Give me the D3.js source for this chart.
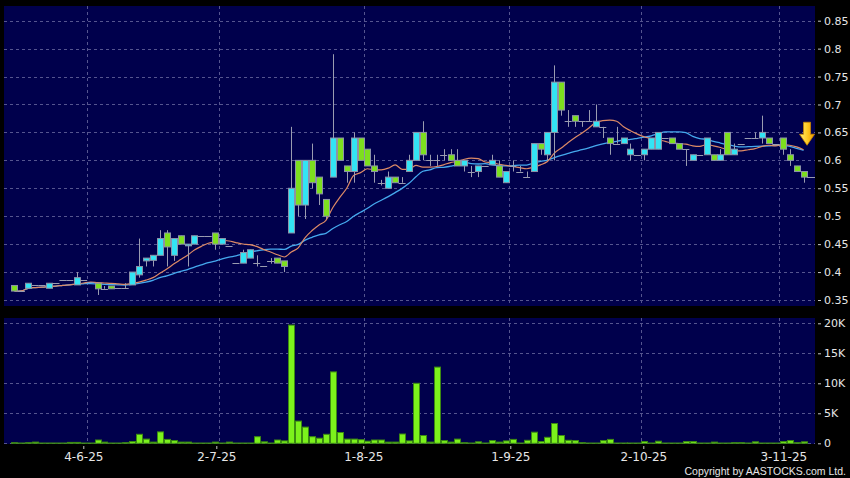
<!DOCTYPE html>
<html>
<head>
<meta charset="utf-8">
<script src="https://cdn.jsdelivr.net/npm/d3@7/dist/d3.min.js"></script>
<style>
body { margin: 0; background: #000; }
svg text { font-family: "DejaVu Sans", sans-serif; fill: #e6e6e6; }
</style>
</head>
<body>
<svg id="chart" width="850" height="478"></svg>
<script>
//Data (one entry per trading day)
var opens  = [.376,.367,.371,.376,.376,.371,.38,.385,.385,.377,.385,.383,.38,.37,.375,.371,.372,.377,.395,.42,
              .421,.43,.47,.43,.465,.447,.45,.465,.465,.47,.45,.446,.416,.416,.425,.417,.41,.42,.425,.42,
              .47,.60,.52,.60,.57,.53,.57,.64,.59,.58,.64,.62,.59,.56,.55,.57,.56,.58,.60,.65,
              .60,.60,.61,.61,.60,.59,.58,.58,.59,.592,.59,.56,.59,.58,.57,.58,.63,.61,.65,.74,
              .67,.68,.67,.67,.66,.66,.64,.63,.63,.61,.61,.61,.62,.62,.64,.64,.63,.62,.60,.61,
              .61,.61,.60,.65,.61,.63,.64,.64,.64,.64,.63,.64,.61,.59,.58];
var closes = [.366,.367,.38,.376,.376,.38,.38,.385,.385,.39,.385,.383,.37,.37,.37,.371,.372,.40,.41,.425,
              .43,.46,.445,.46,.45,.45,.465,.465,.465,.45,.46,.446,.416,.435,.44,.417,.41,.42,.416,.41,
              .55,.52,.60,.56,.54,.50,.64,.60,.58,.64,.60,.59,.58,.56,.57,.56,.56,.60,.65,.61,
              .60,.60,.61,.60,.59,.60,.58,.59,.59,.60,.57,.58,.59,.58,.57,.63,.62,.65,.74,.69,
              .67,.67,.67,.67,.67,.66,.63,.63,.64,.62,.61,.62,.64,.65,.64,.63,.62,.62,.61,.61,
              .64,.60,.61,.61,.62,.63,.64,.64,.65,.63,.63,.62,.60,.58,.57];
var highs  = [.376,.367,.38,.376,.376,.38,.38,.385,.385,.40,.385,.383,.38,.375,.375,.371,.38,.40,.46,.425,
              .43,.475,.475,.46,.465,.45,.465,.465,.465,.47,.46,.446,.416,.44,.44,.43,.41,.425,.425,.42,
              .66,.60,.60,.63,.57,.53,.79,.64,.59,.65,.64,.62,.61,.565,.58,.57,.57,.61,.65,.67,
              .61,.61,.62,.62,.62,.60,.59,.59,.59,.61,.60,.58,.60,.59,.58,.63,.63,.65,.77,.74,
              .69,.68,.67,.69,.70,.66,.64,.66,.64,.63,.61,.62,.64,.65,.64,.64,.63,.62,.61,.61,
              .64,.61,.62,.65,.63,.63,.64,.65,.68,.64,.63,.64,.62,.59,.58];
var lows   = [.366,.367,.371,.376,.376,.371,.38,.385,.385,.377,.385,.383,.359,.37,.37,.371,.371,.377,.39,.41,
              .41,.43,.41,.42,.45,.41,.45,.465,.465,.44,.45,.446,.416,.416,.425,.41,.41,.415,.416,.40,
              .47,.50,.495,.55,.52,.495,.57,.60,.56,.56,.60,.59,.56,.555,.55,.56,.56,.58,.60,.60,
              .59,.59,.60,.60,.59,.58,.57,.57,.59,.592,.57,.56,.58,.58,.57,.58,.61,.60,.60,.68,
              .66,.66,.66,.67,.66,.64,.61,.63,.63,.60,.61,.60,.62,.62,.64,.63,.62,.59,.60,.61,
              .61,.60,.60,.61,.61,.63,.64,.64,.63,.63,.63,.61,.59,.58,.56];
var volumes = [100,50,100,200,50,50,50,50,150,150,50,50,550,200,50,50,100,300,1500,700,
               200,1900,650,450,200,200,50,50,50,200,50,200,50,50,50,1100,250,50,550,400,
               19700,3700,2700,1100,850,1500,11900,1800,700,700,600,350,550,550,200,200,1550,400,10000,1300,
               200,12700,450,200,700,100,50,250,50,450,200,400,650,50,500,1850,300,1000,3300,1300,
               500,450,100,50,50,450,650,50,50,50,50,300,50,350,50,50,50,300,300,50,
               50,200,50,50,100,100,50,250,50,50,50,300,450,100,250];

//Axis labels
var dateLabels = ["4-6-25", "2-7-25", "1-8-25", "1-9-25", "2-10-25", "3-11-25"];
var labelIndex = [11, 30, 51, 72, 91, 111];
var priceTicks = [0.35, 0.4, 0.45, 0.5, 0.55, 0.6, 0.65, 0.7, 0.75, 0.8, 0.85];
var volumeTicks = [0, 5000, 10000, 15000, 20000];

//Settings
var upColor = "#33e4f4";
var downColor = "#7ddf1e";
var edgeColor = "#8c93a8";
var gridColor = "#55558f";
var panelColor = "#00004c";
var bodyWidth = 6;

var svg = d3.select("#chart");
svg.append("rect").attr("width", 850).attr("height", 478).attr("fill", "#000");

//Scales
var n = closes.length;
var idx = d3.range(n);
var x = d3.scaleBand().domain(idx).range([11, 807]);
var xc = function(i) { return x(i) + x.bandwidth() / 2; };
var xt = d3.scaleLinear().domain([0, n - 1]).range([6.3, 804.3]);
var y = d3.scaleLinear().domain([0.35, 0.85]).range([300, 20.7]);
var yv = d3.scaleLinear().domain([0, 20000]).range([443.3, 323.3]);

//Panels
svg.append("rect").attr("x", 4).attr("y", 6).attr("width", 811).attr("height", 300).attr("fill", panelColor);
svg.append("rect").attr("x", 4).attr("y", 318).attr("width", 811).attr("height", 126).attr("fill", panelColor);
var defs = svg.append("defs");
defs.append("clipPath").attr("id", "clipPrice").append("rect").attr("x", 4).attr("y", 6).attr("width", 811).attr("height", 300);

//Grid
var grid = svg.append("g").attr("stroke", gridColor).attr("stroke-dasharray", "3,3").attr("stroke-width", 1);
priceTicks.forEach(function(t) {
    grid.append("line").attr("x1", 4).attr("x2", 815).attr("y1", Math.round(y(t)) + 0.5).attr("y2", Math.round(y(t)) + 0.5);
});
volumeTicks.forEach(function(t) {
    grid.append("line").attr("x1", 4).attr("x2", 815).attr("y1", Math.round(yv(t)) + 0.5).attr("y2", Math.round(yv(t)) + 0.5);
});
labelIndex.forEach(function(i) {
    var gx = Math.round(x(i)) + 0.5;
    grid.append("line").attr("x1", gx).attr("x2", gx).attr("y1", 6).attr("y2", 306);
    grid.append("line").attr("x1", gx).attr("x2", gx).attr("y1", 318).attr("y2", 444);
});

//Moving averages
function movingAverage(len) {
    return idx.map(function(i) { return d3.mean(closes.slice(Math.max(0, i - len + 1), i + 1)); });
}
var ma10 = movingAverage(10);
var ma20 = movingAverage(20);
var line = d3.line().x(function(d, i) { return xc(i); }).y(function(d) { return y(d); }).curve(d3.curveMonotoneX);

var price = svg.append("g").attr("clip-path", "url(#clipPrice)");
price.append("path").datum(ma20).attr("d", line).attr("fill", "none").attr("stroke", "#45a9ee").attr("stroke-width", 1.3);
price.append("path").datum(ma10).attr("d", line).attr("fill", "none").attr("stroke", "#dd8a66").attr("stroke-width", 1.2);

//Candles
var candle = price.selectAll("g.candle").data(idx).enter().append("g").attr("class", "candle");
candle.append("line")
    .attr("x1", function(i) { return Math.round(xc(i)) + 0.5; })
    .attr("x2", function(i) { return Math.round(xc(i)) + 0.5; })
    .attr("y1", function(i) { return y(highs[i]); })
    .attr("y2", function(i) { return y(lows[i]); })
    .attr("stroke", "#9a9cb0").attr("stroke-width", 1);
candle.each(function(i) {
    var g = d3.select(this);
    var top = y(Math.max(opens[i], closes[i]));
    var bot = y(Math.min(opens[i], closes[i]));
    if (bot - top < 1) {
        g.append("line").attr("x1", xc(i) - 3.5).attr("x2", xc(i) + 3.5)
            .attr("y1", Math.round(top) + 0.5).attr("y2", Math.round(top) + 0.5)
            .attr("stroke", "#9a9cb0").attr("stroke-width", 1);
    } else {
        g.append("rect").attr("x", Math.round(xc(i) - bodyWidth / 2) + 0.5).attr("y", top)
            .attr("width", bodyWidth).attr("height", bot - top)
            .attr("fill", closes[i] > opens[i] ? upColor : downColor)
            .attr("stroke", edgeColor).attr("stroke-width", 1);
    }
});

//Last price marker
var last = n - 1;
price.append("line").attr("x1", xc(last) + 3.5).attr("x2", 815)
    .attr("y1", Math.round(y(closes[last])) + 0.5).attr("y2", Math.round(y(closes[last])) + 0.5)
    .attr("stroke", "#9a9cb0");

//Arrow
var grad = defs.append("linearGradient").attr("id", "arrowGrad").attr("x1", 0).attr("x2", 1).attr("y1", 0).attr("y2", 0);
grad.append("stop").attr("offset", "0%").attr("stop-color", "#fff27a");
grad.append("stop").attr("offset", "55%").attr("stop-color", "#ffc81e");
grad.append("stop").attr("offset", "100%").attr("stop-color", "#e89400");
var ax = xc(last) + 3.5;
var tip = y(ma10[last]) - 4.5;
var arrow = [[ax - 3.5, tip - 23], [ax + 3.5, tip - 23], [ax + 3.5, tip - 11], [ax + 7.5, tip - 11], [ax, tip], [ax - 7.5, tip - 11], [ax - 3.5, tip - 11]];
svg.append("path").attr("d", "M" + arrow.join("L") + "Z").attr("fill", "url(#arrowGrad)").attr("stroke", "#c98500").attr("stroke-width", 0.8);

//Volume bars
svg.append("g").selectAll("rect").data(idx).enter().append("rect")
    .attr("x", function(i) { return Math.round(xc(i) - bodyWidth / 2) + 0.5; })
    .attr("y", function(i) { return yv(volumes[i]); })
    .attr("width", bodyWidth)
    .attr("height", function(i) { return yv(0) - yv(volumes[i]); })
    .attr("fill", "#7cf21c").attr("stroke", "#3c8a12").attr("stroke-width", 1);

//Axes
var priceAxis = svg.append("g").attr("transform", "translate(818,0)")
    .call(d3.axisRight(y).tickValues(priceTicks).tickSize(3).tickPadding(3).tickFormat(d3.format("~g")));
var volumeAxis = svg.append("g").attr("transform", "translate(818,0)")
    .call(d3.axisRight(yv).tickValues(volumeTicks).tickSize(3).tickPadding(3)
        .tickFormat(function(d) { return d === 0 ? "0" : d / 1000 + "K"; }));
var dateAxis = svg.append("g").attr("transform", "translate(0,446)")
    .call(d3.axisBottom(xt).tickValues(labelIndex).tickSize(3).tickPadding(3.5)
        .tickFormat(function(d, i) { return dateLabels[i]; }));
[priceAxis, volumeAxis].forEach(function(a) { a.selectAll("text").attr("font-size", 11); });
dateAxis.selectAll("text").attr("font-size", 12);
[priceAxis, volumeAxis, dateAxis].forEach(function(a) {
    a.select(".domain").remove();
    a.selectAll("line").attr("stroke", "#c8c8c8");
    a.selectAll("text").attr("fill", "#e6e6e6").style("font-family", "DejaVu Sans, sans-serif");
});

//Copyright
svg.append("text").attr("x", 846).attr("y", 475).attr("text-anchor", "end")
    .attr("font-size", 10.5).style("font-family", "Liberation Sans, Arial, sans-serif")
    .text("Copyright by AASTOCKS.com Ltd.");
</script>
</body>
</html>
